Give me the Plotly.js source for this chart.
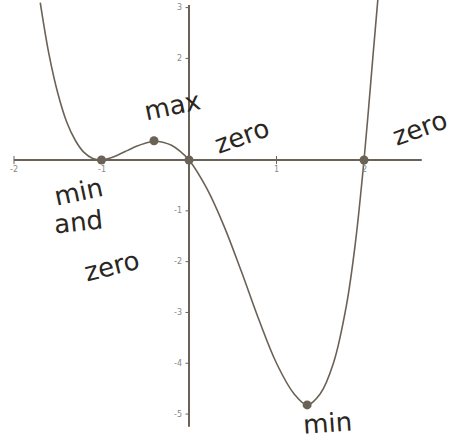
<!DOCTYPE html>
<html>
<head>
<meta charset="utf-8">
<script src="https://cdn.plot.ly/plotly-3.0.1.min.js"></script>
<style>
  html, body { margin: 0; padding: 0; background: #fff; }
  #chart { width: 458px; height: 441px; }
</style>
</head>
<body>
<div id="chart"></div>
<script>
// Sketched graph of a quartic: y = x(x+1)^2(x-2)
const curveX = [-1.7, -1.6, -1.5, -1.4, -1.3, -1.2, -1.1, -1.0, -0.9, -0.8, -0.7, -0.6, -0.5, -0.4, -0.3, -0.2, -0.1, 0.0,
                0.2, 0.4, 0.6, 0.8, 1.0, 1.2, 1.35, 1.5, 1.65, 1.8, 1.9, 2.0, 2.1, 2.16];
const curveY = [3.1, 2.08, 1.32, 0.76, 0.39, 0.15, 0.03, 0.0, 0.04, 0.11, 0.19, 0.27, 0.33, 0.37, 0.35, 0.29, 0.17, 0.0,
                -0.55, -1.3, -2.2, -3.15, -4.0, -4.6, -4.82, -4.6, -4.0, -2.85, -1.65, 0.0, 2.0, 3.2];

// Labelled points: minimum/zero, maximum, zero, minimum, zero
const pointX = [-1.0, -0.4, 0.0, 1.35, 2.0];
const pointY = [0.0, 0.38, 0.0, -4.82, 0.0];

// Axis ticks
const xTicks = [-2, -1, 1, 2];
const xTickText = ['-2', '-1', '1', '2'];
const yTicks = [3, 2, -1, -2, -3, -4, -5];
const yTickText = ['3', '2', '-1', '-2', '-3', '-4', '-5'];

// Handwritten notes: text, pixel centre, angle
const notes = [
  {text: 'max',  px: 172, py: 106, angle: -12},
  {text: 'zero', px: 242, py: 136, angle: -20},
  {text: 'zero', px: 420, py: 128, angle: -20},
  {text: 'min',  px: 78,  py: 192, angle: -12},
  {text: 'and',  px: 78,  py: 222, angle: -6},
  {text: 'zero', px: 112, py: 266, angle: -14},
  {text: 'min',  px: 327, py: 423, angle: -4}
];

const W = 458, H = 441;
const ink = '#6b6257';
const xr = [-2.16, 3.074];
const yr = [-5.53, 3.15];

const traces = [
  {x: curveX, y: curveY, mode: 'lines', line: {color: ink, width: 1.6, shape: 'spline', smoothing: 1.0},
   hoverinfo: 'skip', showlegend: false, cliponaxis: true},
  {x: pointX, y: pointY, mode: 'markers', marker: {color: ink, size: 9},
   hoverinfo: 'skip', showlegend: false}
];

const shapes = [
  // x axis and y axis
  {type: 'line', xref: 'x', yref: 'y', x0: -2, x1: 2.66, y0: 0, y1: 0, line: {color: ink, width: 2}},
  {type: 'line', xref: 'x', yref: 'y', x0: 0, x1: 0, y0: -5.25, y1: 3.05, line: {color: ink, width: 2}}
];
xTicks.forEach(v => shapes.push({type: 'line', xref: 'x', yref: 'y', x0: v, x1: v, y0: -0.08, y1: 0.08,
                                  line: {color: ink, width: 1}}));
yTicks.forEach(v => shapes.push({type: 'line', xref: 'x', yref: 'y', x0: -0.04, x1: 0.0, y0: v, y1: v,
                                  line: {color: ink, width: 1}}));

const annotations = [];
xTicks.forEach((v, i) => annotations.push({x: v, y: 0, xref: 'x', yref: 'y', text: xTickText[i],
  showarrow: false, xanchor: 'center', yanchor: 'top', yshift: -3, font: {size: 8, color: '#888', family: 'DejaVu Sans'}}));
yTicks.forEach((v, i) => annotations.push({x: 0, y: v, xref: 'x', yref: 'y', text: yTickText[i],
  showarrow: false, xanchor: 'right', yanchor: 'middle', xshift: -5, font: {size: 8, color: '#888', family: 'DejaVu Sans'}}));
notes.forEach(n => annotations.push({x: n.px / W, y: 1 - n.py / H, xref: 'paper', yref: 'paper', text: n.text,
  showarrow: false, textangle: n.angle, xanchor: 'center', yanchor: 'middle',
  font: {size: 26, color: '#2a2622', family: 'DejaVu Sans'}}));

const layout = {
  width: W, height: H,
  margin: {l: 0, r: 0, t: 0, b: 0},
  paper_bgcolor: '#fff', plot_bgcolor: '#fff',
  xaxis: {range: xr, visible: false, fixedrange: true},
  yaxis: {range: yr, visible: false, fixedrange: true},
  shapes: shapes,
  annotations: annotations,
  showlegend: false
};

Plotly.newPlot('chart', traces, layout, {staticPlot: true, displayModeBar: false});
</script>
</body>
</html>
